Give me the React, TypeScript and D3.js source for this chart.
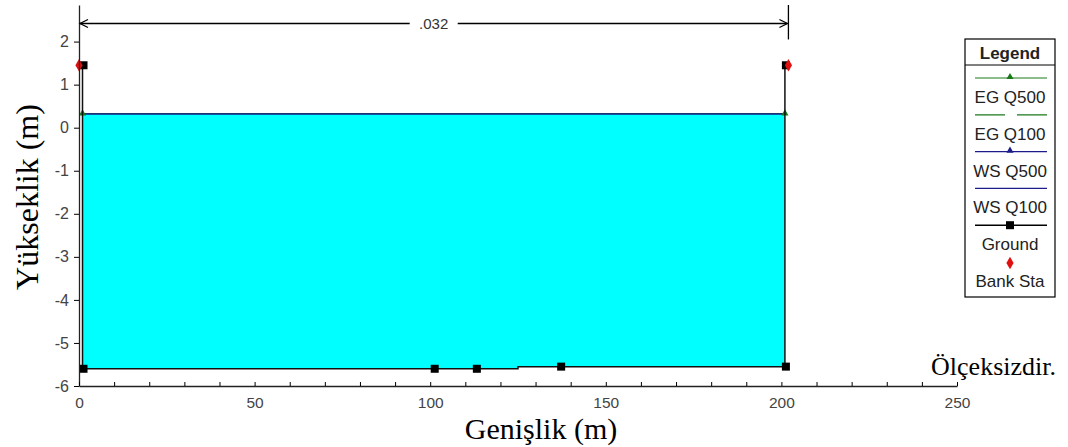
import React, { useRef, useEffect } from 'react';
import * as d3 from 'd3';

// ground profile (station, elevation)
const groundX = [1, 1, 101, 113, 125, 125, 137, 201, 201];
const groundY = [1.45, -5.6, -5.6, -5.6, -5.6, -5.55, -5.55, -5.55, 1.45];
const groundMark = [true, true, true, true, false, false, true, true, true];

const bankX = [0, 202];
const bankY = [1.45, 1.45];

const wsElev = 0.32; // WS Q100 / WS Q500
const egElev = 0.33; // EG Q100 / EG Q500
const manningN = '.032';

const xTicks = [0, 50, 100, 150, 200, 250];
const yTicks = [2, 1, 0, -1, -2, -3, -4, -5, -6];

const legendItems = ['EG Q500', 'EG Q100', 'WS Q500', 'WS Q100', 'Ground', 'Bank Sta'];

const SANS = 'Liberation Sans, Arial, sans-serif';
const SERIF = 'Liberation Serif, Times New Roman, serif';

function App() {
  const svgRef = useRef(null);

  useEffect(() => {
    document.body.style.margin = '0';
    const svg = d3.select(svgRef.current);
    svg.selectAll('*').remove();

    const x = d3.scaleLinear().domain([0, 250]).range([79, 957]);
    const y = d3.scaleLinear().domain([-6, 2.85]).range([386, 5]);

    // water fill between ground and water surface
    const wet = groundX
      .map((gx, i) => ({ x: gx, y: groundY[i] }))
      .filter(d => d.y < wsElev);
    const area = d3.area<any>()
      .x(d => x(d.x))
      .y0(d => y(d.y))
      .y1(() => y(wsElev));
    svg.append('path')
      .datum(wet)
      .attr('fill', '#00ffff')
      .attr('d', area);

    // EG line (green) and WS line (blue)
    const x0 = groundX[0], x1 = groundX[groundX.length - 1];
    svg.append('line')
      .attr('x1', x(x0)).attr('x2', x(x1))
      .attr('y1', y(egElev)).attr('y2', y(egElev))
      .attr('stroke', '#1a7a1a').attr('stroke-width', 1);
    svg.append('line')
      .attr('x1', x(x0)).attr('x2', x(x1))
      .attr('y1', y(wsElev)).attr('y2', y(wsElev))
      .attr('stroke', '#1c1c8a').attr('stroke-width', 1.5);
    [x0, x1].forEach(px => {
      svg.append('path')
        .attr('d', d3.symbol(d3.symbolTriangle, 22)())
        .attr('transform', `translate(${x(px)},${y(egElev)})`)
        .attr('fill', '#1a7a1a');
    });

    // ground
    const line = d3.line<number>()
      .x((d, i) => x(groundX[i]))
      .y(d => y(d));
    svg.append('path')
      .datum(groundY)
      .attr('fill', 'none')
      .attr('stroke', '#111')
      .attr('stroke-width', 1.5)
      .attr('d', line);
    const marks = groundX
      .map((gx, i) => ({ x: gx, y: groundY[i], m: groundMark[i] }))
      .filter(d => d.m);
    svg.selectAll('.gmark')
      .data(marks)
      .enter().append('rect')
      .attr('x', d => x(d.x) - 4 + 1)
      .attr('y', d => y(d.y) - 4)
      .attr('width', 8)
      .attr('height', 8)
      .attr('fill', '#000');

    // bank stations
    svg.selectAll('.bank')
      .data(bankX)
      .enter().append('path')
      .attr('d', d3.symbol(d3.symbolDiamond, 45)())
      .attr('transform', (d, i) => `translate(${x(d)},${y(bankY[i])})`)
      .attr('fill', '#e01010');

    // axes
    const yAxis = svg.append('g')
      .attr('transform', `translate(${x(0)},0)`)
      .call(d3.axisLeft(y).tickValues(yTicks).tickSize(5).tickPadding(5).tickSizeOuter(0).tickFormat(d => String(d)));
    yAxis.selectAll('text')
      .attr('font-family', SANS)
      .attr('font-size', 16)
      .attr('fill', '#444');

    const xAxis = svg.append('g')
      .attr('transform', `translate(0,${y(-6)})`)
      .call(d3.axisBottom(x).tickValues(d3.range(0, 251, 10)).tickSize(-4).tickSizeOuter(0)
        .tickFormat(d => (xTicks.includes(d as number) ? String(d) : '')));
    xAxis.selectAll('text')
      .attr('font-family', SANS)
      .attr('font-size', 15.5)
      .attr('fill', '#444')
      .attr('dy', null)
      .attr('y', 22);
    svg.selectAll('.domain').attr('stroke', '#222').attr('stroke-width', 1.3);

    // dimension line for Manning's n
    const dimY = y(2.42);
    svg.append('line')
      .attr('x1', x(bankX[1])).attr('x2', x(bankX[1]))
      .attr('y1', y(2.85)).attr('y2', y(2.05))
      .attr('stroke', '#000').attr('stroke-width', 1.3);
    svg.append('line')
      .attr('x1', x(bankX[0]) + 1).attr('x2', x(bankX[1]) - 1)
      .attr('y1', dimY).attr('y2', dimY)
      .attr('stroke', '#000').attr('stroke-width', 1.3);
    [[bankX[0], 1], [bankX[1], -1]].forEach(([bx, dir]) => {
      const tx = x(bx) + dir * 1;
      svg.append('path')
        .attr('d', `M${tx + dir * 8},${dimY - 4} L${tx},${dimY} L${tx + dir * 8},${dimY + 4}`)
        .attr('fill', 'none').attr('stroke', '#000').attr('stroke-width', 1.3);
    });
    const midX = (x(bankX[0]) + x(bankX[1])) / 2;
    svg.append('rect')
      .attr('x', midX - 24).attr('y', dimY - 8).attr('width', 48).attr('height', 16)
      .attr('fill', '#fff');
    svg.append('text')
      .attr('x', midX).attr('y', dimY + 5)
      .attr('text-anchor', 'middle')
      .attr('font-family', SANS)
      .attr('font-size', 15)
      .attr('fill', '#333')
      .text(manningN);

    // axis titles
    svg.append('text')
      .attr('transform', `translate(38,197) rotate(-90)`)
      .attr('text-anchor', 'middle')
      .attr('font-family', SERIF)
      .attr('font-size', 32)
      .text('Yükseklik (m)');
    svg.append('text')
      .attr('x', 541).attr('y', 439)
      .attr('text-anchor', 'middle')
      .attr('font-family', SERIF)
      .attr('font-size', 30)
      .text('Genişlik (m)');
    svg.append('text')
      .attr('x', 1056).attr('y', 375)
      .attr('text-anchor', 'end')
      .attr('font-family', SERIF)
      .attr('font-size', 26)
      .text('Ölçeksizdir.');

    // legend
    const lg = svg.append('g').attr('font-family', SANS).attr('font-size', 17);
    const lx0 = 965, lx1 = 1055;
    lg.append('rect').attr('x', lx0).attr('y', 39).attr('width', lx1 - lx0).attr('height', 258)
      .attr('fill', '#fff').attr('stroke', '#000').attr('stroke-width', 1.2);
    lg.append('line').attr('x1', lx0).attr('x2', lx1).attr('y1', 65).attr('y2', 65).attr('stroke', '#000');
    lg.append('text').attr('x', (lx0 + lx1) / 2).attr('y', 59).attr('text-anchor', 'middle')
      .attr('font-weight', 'bold').attr('fill', '#222').text('Legend');

    const cx = (lx0 + lx1) / 2;
    const items = lg.selectAll('.item').data(legendItems).enter().append('g')
      .attr('transform', (d, i) => `translate(0,${78 + i * 36.8})`);
    items.append('text').attr('x', cx).attr('y', 25).attr('text-anchor', 'middle')
      .attr('fill', '#222').text(d => d);
    items.filter(d => d !== 'Bank Sta').append('line')
      .attr('x1', 975).attr('x2', 1047).attr('y1', 0).attr('y2', 0)
      .attr('stroke', d => d.startsWith('EG') ? '#1a7a1a' : d.startsWith('WS') ? '#1c1c8a' : '#000')
      .attr('stroke-width', d => d === 'Ground' ? 1.5 : 1.2)
      .attr('stroke-dasharray', d => d === 'EG Q100' ? '30 12' : null);
    items.filter(d => d === 'EG Q500' || d === 'WS Q500').append('path')
      .attr('d', d3.symbol(d3.symbolTriangle, 22)())
      .attr('transform', `translate(${cx},-1)`)
      .attr('fill', d => d === 'EG Q500' ? '#1a7a1a' : '#1c1c8a');
    items.filter(d => d === 'Ground').append('rect')
      .attr('x', cx - 4).attr('y', -4).attr('width', 8).attr('height', 8).attr('fill', '#000');
    items.filter(d => d === 'Bank Sta').append('path')
      .attr('d', d3.symbol(d3.symbolDiamond, 45)())
      .attr('transform', `translate(${cx},1)`)
      .attr('fill', '#e01010');
  }, []);

  return <svg ref={svgRef} width={1068} height={447} style={{ display: 'block' }} />;
}

export default App;
